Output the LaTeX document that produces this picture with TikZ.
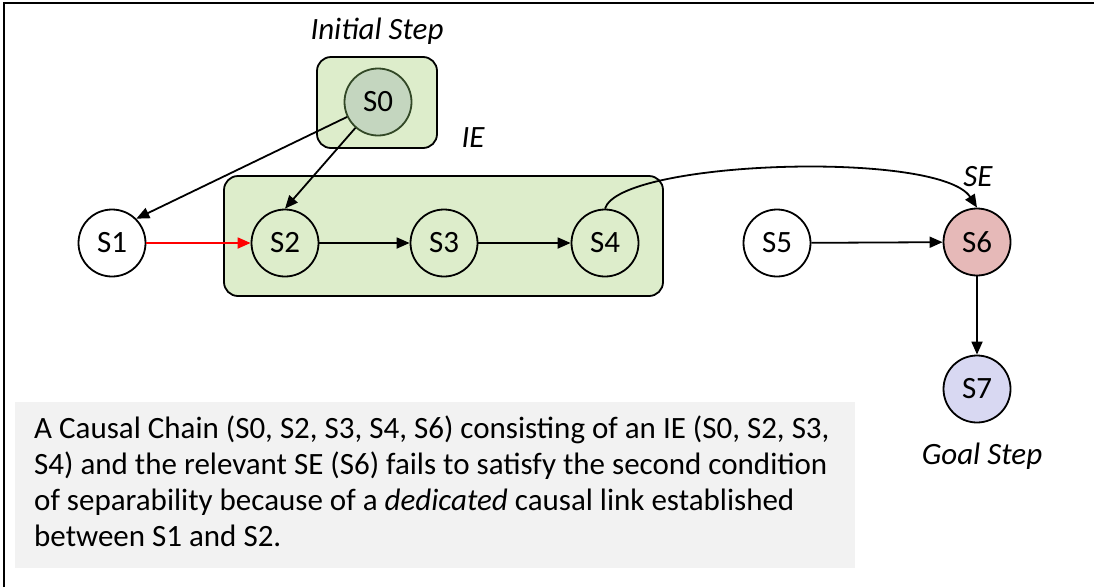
\documentclass[tikz,border=0pt]{standalone}
\usepackage{fontspec}
\setmainfont{Carlito}
\usetikzlibrary{arrows.meta}

\definecolor{groupfill}{RGB}{221,237,203}
\definecolor{initfill}{RGB}{196,214,191}
\definecolor{initline}{RGB}{50,72,38}
\definecolor{sefill}{RGB}{230,185,184}
\definecolor{goalfill}{RGB}{216,216,242}
\definecolor{notefill}{RGB}{242,242,242}
\definecolor{linkred}{RGB}{255,0,0}

\tikzset{
  stepnode/.style={circle, draw=black, line width=1.8pt, minimum size=67pt, inner sep=0pt,
    font=\fontsize{31}{34}\selectfont},
  groupbox/.style={draw=black, line width=1.8pt, rounded corners=14pt, fill=groupfill, inner sep=0pt},
  tag/.style={font=\fontsize{31}{34}\selectfont\itshape},
  link/.style={line width=1.8pt, -{Triangle[length=13pt,width=11pt]}},
}

\begin{document}
\begin{tikzpicture}[x=1pt,y=-1pt]
\useasboundingbox (0,0) rectangle (1094,587);

% frame edges
\draw[line width=2.5pt] (4,587) -- (4,3) -- (1094,3);

% group boxes
\node[groupbox, minimum width=120pt, minimum height=91pt] (initbox) at (377,102.5) {};
\node[groupbox, minimum width=439pt, minimum height=120pt] (iebox) at (443.5,236) {};

% steps
\node[stepnode, fill=initfill, draw=initline] (s0) at (378,102) {S0};
\node[stepnode, fill=white] (s1) at (112,243) {S1};
\node[stepnode] (s2) at (285,243) {S2};
\node[stepnode] (s3) at (444,243) {S3};
\node[stepnode] (s4) at (605,243) {S4};
\node[stepnode, fill=white] (s5) at (777,243) {S5};
\node[stepnode, fill=sefill] (s6) at (977,242) {S6};
\node[stepnode, fill=goalfill] (s7) at (977,389) {S7};

% labels
\node[tag] (tinit) at (377,31) {Initial Step};
\node[tag] (tie) at (473,138) {IE};
\node[tag] (tse) at (978,177) {SE};
\node[tag] (tgoal) at (982,456) {Goal Step};

% causal links
\draw[link] (s0) -- (s1.north east);
\draw[link] (s0) -- (s2.north);
\draw[link, draw=linkred, fill=linkred] (s1) -- (s2);
\draw[link] (s2) -- (s3);
\draw[link] (s3) -- (s4);
\draw[link] (s5) -- (s6);
\draw[link] (s6) -- (s7);
\draw[link] (s4.north) .. controls (620,160) and (940,150) .. (s6.north);

% note
\fill[notefill] (15,402) rectangle (855,568);
\node[anchor=base west, align=left, inner sep=0pt,
  font=\fontsize{31}{36}\selectfont] (note) at (34,546)
  {A Causal Chain (S0, S2, S3, S4, S6) consisting of an IE (S0, S2, S3,\\
   S4) and the relevant SE (S6) fails to satisfy the second condition\\
   of separability because of a \textit{dedicated} causal link established\\
   between S1 and S2.};
\end{tikzpicture}
\end{document}
